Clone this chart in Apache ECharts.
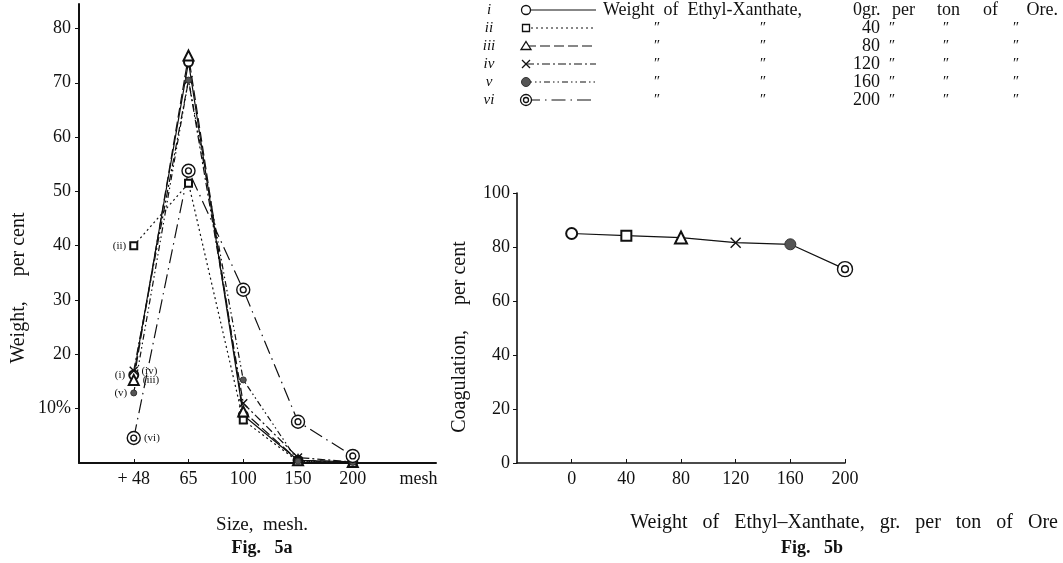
<!DOCTYPE html>
<html>
<head>
<meta charset="utf-8">
<script src="https://cdn.jsdelivr.net/npm/echarts@6/dist/echarts.min.js"></script>
<style>
  html, body { margin: 0; background: #fff; }
  #chart { width: 1063px; height: 563px; }
</style>
</head>
<body>
<div id="chart"></div>
<script>
// Fig. 5a : weight per cent on each sieve size
const sizeLabels = ['+ 48', '65', '100', '150', '200'];
const seriesNames = ['i', 'ii', 'iii', 'iv', 'v', 'vi'];
const weight_i = [16.2, 73.8, 8.8, 0.5, 0.2];
const weight_ii = [40.0, 51.5, 7.9, 0.3, 0.1];
const weight_iii = [15.3, 75.0, 9.5, 0.5, 0.2];
const weight_iv = [17.0, 70.5, 11.0, 1.0, 0.2];
const weight_v = [12.9, 70.5, 15.3, 0.3, 0.1];
const weight_vi = [4.6, 53.8, 31.9, 7.6, 1.3];
const leftTicks = [10, 20, 30, 40, 50, 60, 70, 80];

// Fig. 5b : coagulation vs. xanthate dose
const doses = [0, 40, 80, 120, 160, 200];
const coagulation = [85.0, 84.2, 83.5, 81.6, 81.0, 71.8];
const rightTicks = [0, 20, 40, 60, 80, 100];

const weights = [weight_i, weight_ii, weight_iii, weight_iv, weight_v, weight_vi];

const FONT = 'Liberation Serif, DejaVu Serif, serif';
const INK = '#111';
const crossPath = 'path://M0,0L10,10M10,0L0,10';
const ringPath = 'path://M12,2A10,10 0 1,1 11.99,2Z M12,7.5A4.5,4.5 0 1,1 11.99,7.5Z';

const symbols = ['emptyCircle', 'emptyRect', 'emptyTriangle', crossPath, 'circle', ringPath];
const leftSymbolSize = [9, 7, 10, 8, 6, 13];
const rightSymbolSize = [11, 10, 12, 10, 11, 15];
const dashes = ['solid', [2, 3], [10, 4], [8, 3, 2, 3], [6, 3, 1.5, 3, 1.5, 3], [14, 5, 1.5, 5]];
const labelPos = ['left', 'left', 'right', 'right', 'left', 'right'];

function itemStyleFor(k) {
  if (k === 3) return { color: INK, borderColor: INK, borderWidth: 1.4 };
  if (k === 4) return { color: '#555', borderColor: '#333', borderWidth: 1 };
  if (k === 5) return { color: '#fff', borderColor: INK, borderWidth: 1.4 };
  return { color: INK, borderWidth: 1.3 };
}

const leftSeries = weights.map((vals, s) => ({
  type: 'line',
  xAxisIndex: 0,
  yAxisIndex: 0,
  symbol: symbols[s],
  symbolSize: leftSymbolSize[s],
  symbolKeepAspect: true,
  itemStyle: itemStyleFor(s),
  lineStyle: { color: INK, width: 1.2, type: dashes[s] },
  z: 3,
  data: vals.map((v, k) => k === 0
    ? { value: [k, v], label: { show: true, position: labelPos[s], distance: 3,
        formatter: '(' + seriesNames[s] + ')', fontFamily: FONT, fontSize: 11, color: INK } }
    : [k, v])
}));

const rightSeries = {
  type: 'line',
  xAxisIndex: 1,
  yAxisIndex: 1,
  symbolKeepAspect: true,
  lineStyle: { color: INK, width: 1.2 },
  data: doses.map((d, k) => ({
    value: [d, coagulation[k]],
    symbol: symbols[k],
    symbolSize: rightSymbolSize[k],
    itemStyle: itemStyleFor(k)
  }))
};

// legend table drawn as graphics
const legendTop = 10, legendGap = 18;
function legendSymbol(k, cx, cy) {
  const st = { stroke: INK, fill: '#fff', lineWidth: 1.3 };
  if (k === 0) return { type: 'circle', shape: { cx: cx, cy: cy, r: 4.5 }, style: st };
  if (k === 1) return { type: 'rect', shape: { x: cx - 3.5, y: cy - 3.5, width: 7, height: 7 }, style: st };
  if (k === 2) return { type: 'polygon', shape: { points: [[cx, cy - 4.5], [cx + 5, cy + 3.5], [cx - 5, cy + 3.5]] }, style: st };
  if (k === 3) return { type: 'group', children: [
    { type: 'line', shape: { x1: cx - 4, y1: cy - 4, x2: cx + 4, y2: cy + 4 }, style: { stroke: INK, lineWidth: 1.3 } },
    { type: 'line', shape: { x1: cx + 4, y1: cy - 4, x2: cx - 4, y2: cy + 4 }, style: { stroke: INK, lineWidth: 1.3 } }
  ] };
  if (k === 4) return { type: 'circle', shape: { cx: cx, cy: cy, r: 4.5 }, style: { fill: '#555', stroke: '#333', lineWidth: 1 } };
  return { type: 'group', children: [
    { type: 'circle', shape: { cx: cx, cy: cy, r: 5.5 }, style: st },
    { type: 'circle', shape: { cx: cx, cy: cy, r: 2.5 }, style: st }
  ] };
}

function txt(text, x, y, opts) {
  opts = opts || {};
  return {
    type: 'text', x: x, y: y, rotation: opts.rotation || 0, silent: true,
    style: {
      text: text,
      font: (opts.style || '') + ' ' + (opts.weight || 'normal') + ' ' + (opts.size || 18) + 'px ' + FONT,
      fill: INK,
      align: opts.align || 'left', verticalAlign: 'middle',
      textAlign: opts.align || 'left', textVerticalAlign: 'middle'
    }
  };
}

const legendEls = [];
const ditto = '\u2033';
seriesNames.forEach((name, k) => {
  const y = legendTop + k * legendGap;
  legendEls.push(txt(name, 489, y, { style: 'italic', size: 15, align: 'center' }));
  legendEls.push({ type: 'line', shape: { x1: 526, y1: y, x2: 596, y2: y },
    style: { stroke: INK, lineWidth: 1.2, lineDash: dashes[k] === 'solid' ? null : dashes[k] } });
  legendEls.push(legendSymbol(k, 526, y));
  if (k === 0) {
    legendEls.push(txt('Weight  of  Ethyl-Xanthate,', 603, y, { size: 18 }));
    legendEls.push(txt(doses[k] + 'gr.', 853, y, { size: 18 }));
    legendEls.push(txt('per', 892, y, { size: 18 }));
    legendEls.push(txt('ton', 937, y, { size: 18 }));
    legendEls.push(txt('of', 983, y, { size: 18 }));
    legendEls.push(txt('Ore.', 1058, y, { size: 18, align: 'right' }));
  } else {
    legendEls.push(txt(ditto, 656, y, { style: 'italic', size: 15, align: 'center' }));
    legendEls.push(txt(ditto, 762, y, { style: 'italic', size: 15, align: 'center' }));
    legendEls.push(txt(String(doses[k]), 880, y, { size: 18, align: 'right' }));
    legendEls.push(txt(ditto, 891, y, { style: 'italic', size: 15, align: 'center' }));
    legendEls.push(txt(ditto, 945, y, { style: 'italic', size: 15, align: 'center' }));
    legendEls.push(txt(ditto, 1015, y, { style: 'italic', size: 15, align: 'center' }));
  }
});

const axisLabelBase = { fontFamily: FONT, fontSize: 18, color: INK };

const option = {
  backgroundColor: '#fff',
  animation: false,
  grid: [
    { left: 79, top: 4, width: 357, height: 459 },
    { left: 517, top: 193, width: 328, height: 270 }
  ],
  xAxis: [
    {
      type: 'value', gridIndex: 0, min: -1, max: 5.52,
      splitLine: { show: false },
      axisLine: { onZero: false, lineStyle: { color: INK, width: 2 } },
      axisTick: { inside: true, length: 4, customValues: [0, 1, 2, 3, 4], lineStyle: { color: INK } },
      axisLabel: Object.assign({}, axisLabelBase, {
        margin: 7,
        customValues: [0, 1, 2, 3, 4, 5.2],
        formatter: v => v > 4.5 ? 'mesh' : sizeLabels[Math.round(v)]
      })
    },
    {
      type: 'value', gridIndex: 1, min: -40, max: 200, interval: 40,
      splitLine: { show: false },
      axisLine: { onZero: false, lineStyle: { color: INK, width: 1.6 } },
      axisTick: { inside: true, length: 4, customValues: doses, lineStyle: { color: INK } },
      axisLabel: Object.assign({}, axisLabelBase, { margin: 7, customValues: doses })
    }
  ],
  yAxis: [
    {
      type: 'value', gridIndex: 0, min: 0, max: 84.5,
      splitLine: { show: false },
      axisLine: { onZero: false, lineStyle: { color: INK, width: 2 } },
      axisTick: { length: 4, customValues: leftTicks, lineStyle: { color: INK } },
      axisLabel: Object.assign({}, axisLabelBase, {
        margin: 8,
        customValues: leftTicks,
        formatter: v => v === 10 ? '10%' : String(v)
      })
    },
    {
      type: 'value', gridIndex: 1, min: 0, max: 100, interval: 20,
      splitLine: { show: false },
      axisLine: { onZero: false, lineStyle: { color: INK, width: 1.6 } },
      axisTick: { length: 4, lineStyle: { color: INK } },
      axisLabel: Object.assign({}, axisLabelBase, { margin: 7, customValues: rightTicks })
    }
  ],
  series: leftSeries.concat([rightSeries]),
  graphic: [
    txt('Weight,     per cent', 19, 288, { rotation: Math.PI / 2, align: 'center', size: 20 }),
    txt('Size,  mesh.', 262, 525, { size: 19, align: 'center' }),
    txt('Fig.   5a', 262, 548, { size: 18, weight: 'bold', align: 'center' }),
    txt('Coagulation,     per cent', 460, 337, { rotation: Math.PI / 2, align: 'center', size: 20 }),
    txt('Weight   of   Ethyl\u2013Xanthate,   gr.   per   ton   of   Ore', 1058, 523, { size: 20, align: 'right' }),
    txt('Fig.   5b', 812, 548, { size: 18, weight: 'bold', align: 'center' })
  ].concat(legendEls)
};

const chart = echarts.init(document.getElementById('chart'));
chart.setOption(option);
</script>
</body>
</html>
